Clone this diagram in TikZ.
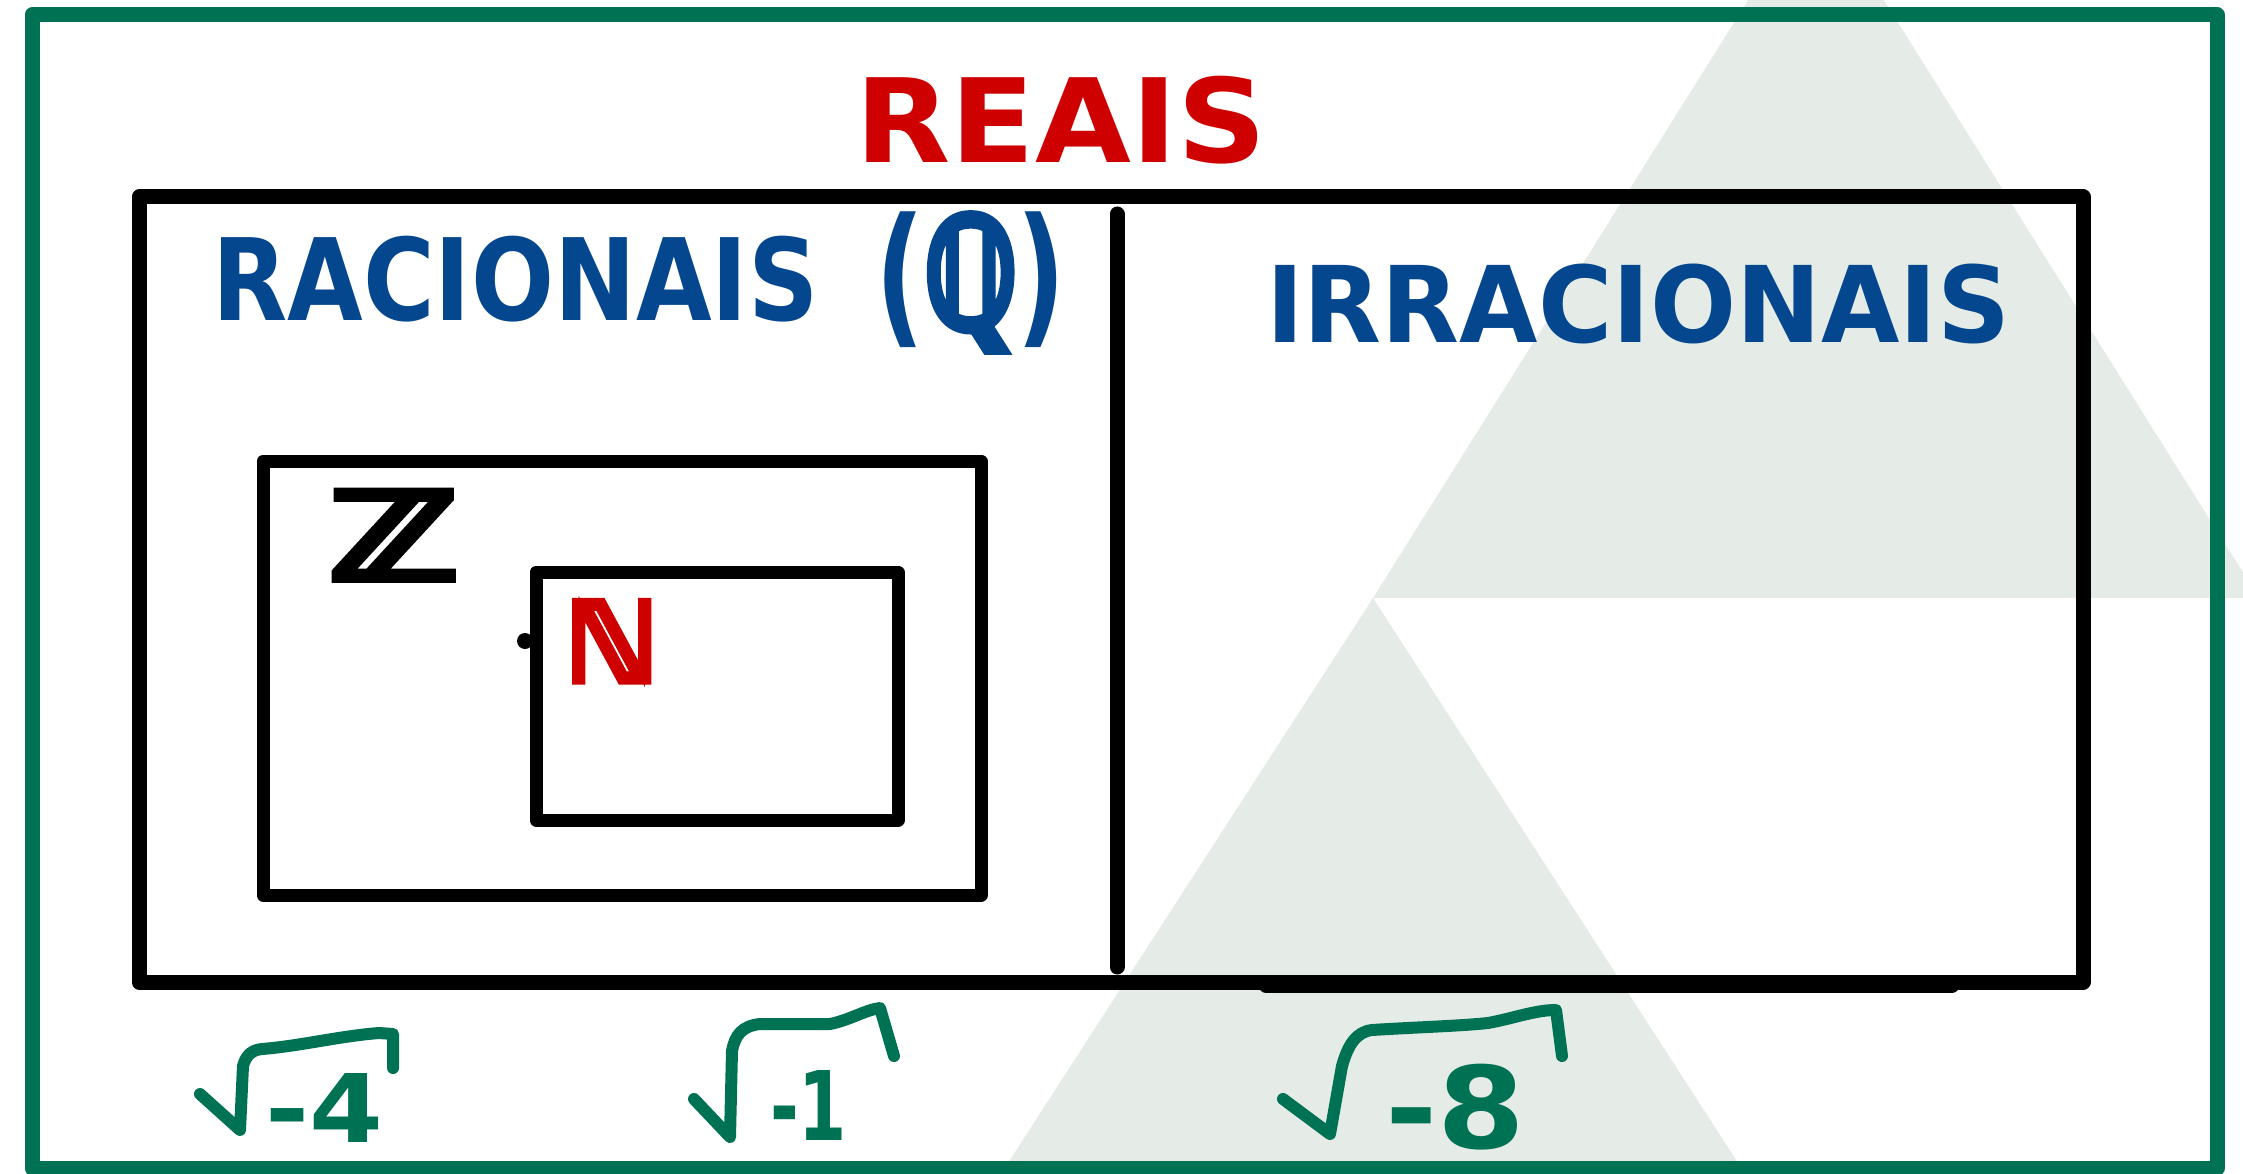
\documentclass[tikz,border=0pt]{standalone}
\usepackage{fontspec}
\usepackage{graphicx}
\setmainfont{DejaVu Sans}
% heavier stroke for the double-struck set letters, as drawn with a marker
\newfontfamily\markerfont{DejaVu Sans}[FakeBold=6]

\definecolor{framegreen}{RGB}{0,114,84}
\definecolor{tilegray}{RGB}{229,236,231}
\definecolor{inkred}{RGB}{206,0,0}
\definecolor{inkblue}{RGB}{4,71,143}

% scale a piece of text to an exact width and total height (in pt)
\newcommand{\handfit}[3]{\resizebox*{#1pt}{#2pt}{#3}}

\tikzset{
  setline/.style={draw=black, line width=15pt, line cap=round, line join=round},
  innerline/.style={draw=black, line width=13pt, line cap=round, line join=round},
  framebox/.style={draw=framegreen, line width=15pt, line join=round},
  label/.style={inner sep=0pt, anchor=north west, font=\bfseries},
  radical/.style={draw=framegreen, line width=12pt, line cap=round, line join=round},
}

\begin{document}
\begin{tikzpicture}[x=1pt, y=-1pt]
  \useasboundingbox (0,0) rectangle (2243,1174);

  % pale triangles in the background
  \begin{scope}
    \clip (0,0) rectangle (2243,1174);
    \fill[tilegray] (1816,-108) -- (1373,598) -- (2259,598) -- cycle;
    \fill[tilegray] (1373,598) -- (984,1200) -- (1762,1200) -- cycle;
  \end{scope}

  % outer frame
  \draw[framebox] (32,15) rectangle (2217,1168);

  % title
  \node[label, text=inkred] (reais) at (855,76) {\handfit{411}{88}{REAIS}};

  % box of the real numbers, split into rationals and irrationals
  \draw[setline] (139,197) rectangle (2083,982);
  \draw[setline] (1266,985) -- (1952,985);
  \coordinate (divtop) at (1117,214);
  \coordinate (divbot) at (1117,967);
  \draw[black, line width=15pt, line cap=round] (divtop) -- (divbot);

  \node[label, text=inkblue] (racionais) at (212,236) {\handfit{606}{86}{RACIONAIS}};
  \node[label, text=inkblue] (qset) at (875,212) {\handfit{191}{138}{({\markerfont ℚ})}};
  \node[label, text=inkblue] (irracionais) at (1266,264) {\handfit{744}{80}{IRRACIONAIS}};

  % integers and naturals
  \draw[innerline] (263,461) rectangle (981,895);
  \node[label, text=black] (zset) at (329,491) {\handfit{129}{88}{\markerfont ℤ}};

  \draw[innerline] (536,572) rectangle (898,820);
  \fill[black] (525,641) circle (8pt);
  \node[label, text=inkred] (nset) at (565,601) {\handfit{93}{80}{\markerfont ℕ}};

  % square roots of negative numbers
  \draw[radical] (200,1094) -- (240,1130) -- (243,1066)
    .. controls (246,1055) and (252,1050) .. (262,1049)
    .. controls (300,1046) and (340,1036) .. (379,1033) -- (393,1034) -- (393,1068);
  \node[label, text=framegreen] (rootfour) at (265,1073) {\handfit{118}{69}{-4}};

  \draw[radical] (694,1099) -- (730,1137) -- (732,1051)
    .. controls (735,1035) and (742,1026) .. (760,1024)
    -- (830,1024) .. controls (850,1020) and (865,1010) .. (880,1008) -- (894,1056);
  \node[label, text=framegreen] (rootone) at (770,1070) {\handfit{77}{70}{-1}};

  \draw[radical] (1283,1099) -- (1330,1134) -- (1342,1066)
    .. controls (1348,1045) and (1356,1032) .. (1372,1030)
    .. controls (1420,1027) and (1460,1026) .. (1488,1023)
    .. controls (1515,1018) and (1535,1010) .. (1556,1010) -- (1562,1056);
  \node[label, text=framegreen] (rooteight) at (1385,1064) {\handfit{140}{86}{-8}};
\end{tikzpicture}
\end{document}
